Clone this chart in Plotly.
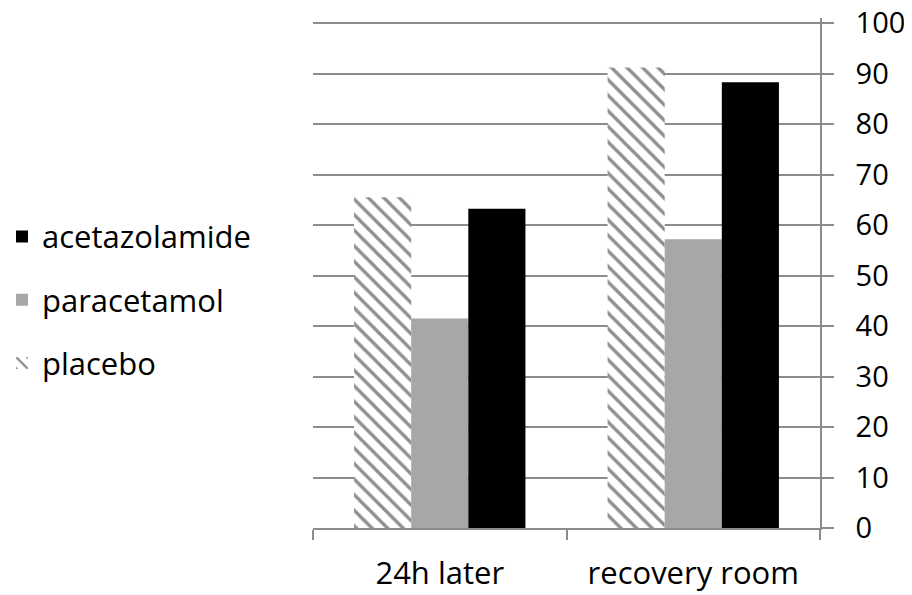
import plotly.graph_objects as go

categories = ["24h later", "recovery room"]
placebo = [65.5, 91.2]
paracetamol = [41.5, 57.2]
acetazolamide = [63.2, 88.3]
y_ticks = [0, 10, 20, 30, 40, 50, 60, 70, 80, 90, 100]

FONT = "Open Sans"
fig = go.Figure()
fig.add_trace(go.Bar(
    x=categories, y=placebo, name="placebo", legendgroup="c", legendrank=3,
    marker=dict(color="white", line=dict(width=0),
                pattern=dict(shape="\\", fgcolor="#8f8f8f", bgcolor="white",
                             size=11, solidity=0.3, fillmode="replace")),
))
fig.add_trace(go.Bar(
    x=categories, y=paracetamol, name="paracetamol", legendgroup="b", legendrank=2,
    marker=dict(color="#a9a6a6", line=dict(width=0)),
))
fig.add_trace(go.Bar(
    x=categories, y=acetazolamide, name="acetazolamide", legendgroup="a", legendrank=1,
    marker=dict(color="black", line=dict(width=0)),
))

# page body has an 8px margin; the figure is sized to fill the rest of the window
W, H = 904, 587
L, R, T, B = 305, 92, 10, 67
PW = W - L - R

fig.update_layout(
    width=W, height=H,
    margin=dict(l=L, r=R, t=T, b=B, autoexpand=False),
    paper_bgcolor="white", plot_bgcolor="white",
    barmode="group", bargap=0.324, bargroupgap=0,
    font=dict(family=FONT, size=30, color="black"),
    legend=dict(
        xref="paper", yref="container",
        x=(-6 - L) / PW, xanchor="left",
        y=0.503, yanchor="middle",
        traceorder="grouped",
        tracegroupgap=20,
        font=dict(family=FONT, size=31, color="black"),
        bgcolor="rgba(0,0,0,0)",
    ),
    xaxis=dict(
        showline=True, linecolor="#8c8c8c", linewidth=1.5,
        ticks="outside", tickson="boundaries", ticklen=10,
        tickcolor="#8c8c8c", tickwidth=1.5,
        ticklabelstandoff=17,
        tickfont=dict(family=FONT, size=31, color="black"),
        showgrid=False,
    ),
    yaxis=dict(
        side="right", range=[0, 101], tickvals=y_ticks,
        showline=True, linecolor="#8c8c8c", linewidth=1.5,
        ticks="outside", ticklen=12, tickcolor="#8c8c8c", tickwidth=1.5,
        ticklabelstandoff=16, ticklabeloverflow="allow",
        showgrid=True, gridcolor="#8c8c8c", gridwidth=1.5,
        zeroline=False,
        tickfont=dict(family=FONT, size=29, color="black"),
    ),
)

fig.write_html("out.html")
